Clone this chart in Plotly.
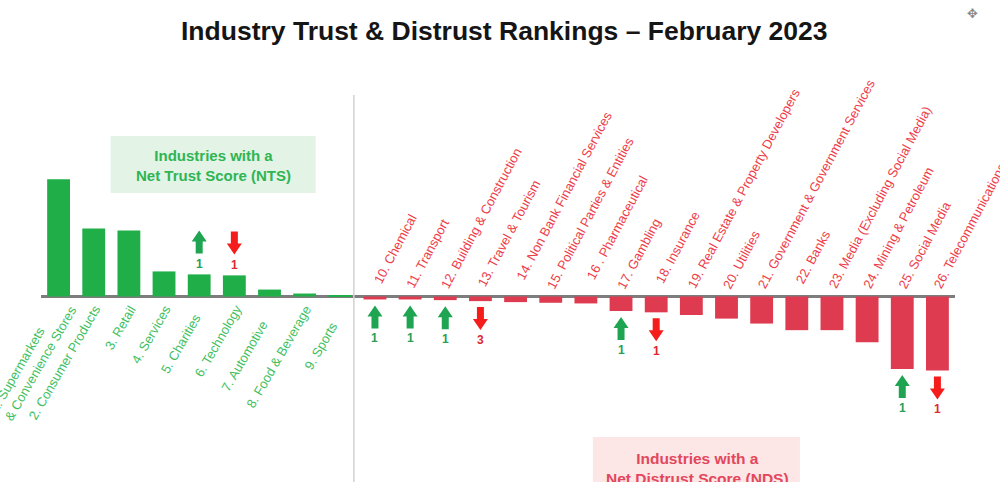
import plotly.graph_objects as go

# ---------------- data ----------------
trust_labels = ["1. Supermarkets<br>& Convenience Stores", "2. Consumer Products", "3. Retail",
                "4. Services", "5. Charities", "6. Technology", "7. Automotive",
                "8. Food & Beverage", "9. Sports"]
trust_values = [35.5, 20.6, 20.0, 7.6, 6.7, 6.4, 2.1, 0.9, 0.2]

distrust_labels = ["10. Chemical", "11. Transport", "12. Building & Construction",
                   "13. Travel & Tourism", "14. Non Bank Financial Services",
                   "15. Political Parties & Entities", "16 . Pharmaceutical", "17. Gambling",
                   "18. Insurance", "19. Real Estate & Property Developers", "20. Utilities",
                   "21. Government & Government Services", "22. Banks",
                   "23. Media (Excluding Social Media)", "24. Mining & Petroleum",
                   "25. Social Media", "26. Telecommunications"]
distrust_values = [-0.9, -0.9, -1.1, -1.4, -1.7, -1.9, -2.1, -4.4, -4.8, -5.6, -6.7,
                   -8.2, -10.2, -10.2, -13.9, -22.0, -22.4]

# rank movement since previous wave (positive = moved up)
rank_change = [0, 0, 0, 0, 1, -1, 0, 0, 0,
               1, 1, 1, -3, 0, 0, 0, 1, -1, 0, 0, 0, 0, 0, 0, 1, -1]

title_text = "Industry Trust & Distrust Rankings – February 2023"
nts_box_text = "Industries with a<br>Net Trust Score (NTS)"
nds_box_text = "Industries with a<br>Net Distrust Score (NDS)"

# ---------------- styling / layout ----------------
W, H = 1000, 482
L, R = 41.4, 45.0
PX_PER_UNIT = 3.3
ZERO_PX = 296.5
FONT = "Liberation Sans, Arial, sans-serif"
GREEN_BAR = "#20ae49"
RED_BAR = "#de3a50"
GREEN_LABEL = "#3fbf60"
RED_LABEL = "#ee3d48"
GREEN_ARROW = "#1fa552"
RED_ARROW = "#f51c1c"

# per-label nudges along the text direction (pixels)
left_back = [0, 0, 0, 0, 10, 0, 18, 0, 18]
right_fwd = [6, 0, 0, 2, 10, 0, 10, 0, 6, 0, 0, 0, 5, 0, 0, 0, 0]


def px(x):
    return (x - L) / (W - L - R)


def py(y):
    return 1 - y / H


n_trust = len(trust_values)
trust_x = list(range(n_trust))
distrust_x = list(range(n_trust, n_trust + len(distrust_values)))
all_values = trust_values + distrust_values

fig = go.Figure()
fig.add_trace(go.Bar(x=trust_x, y=trust_values, width=0.65,
                     marker=dict(color=GREEN_BAR, line=dict(width=0)), hoverinfo="skip"))
fig.add_trace(go.Bar(x=distrust_x, y=distrust_values, width=0.65,
                     marker=dict(color=RED_BAR, line=dict(width=0)), hoverinfo="skip"))

annotations = []
shapes = []

# title
annotations.append(dict(text="<b>" + title_text + "</b>", x=px(505), y=py(31), xref="paper", yref="paper",
                        showarrow=False, font=dict(family=FONT, size=26.5, color="#151515"),
                        xanchor="center", yanchor="middle"))

# category labels – trust side (below axis)
for i, lab in enumerate(trust_labels):
    if i == 0:
        xs, ys = 23.7, 4.8
    else:
        xs, ys = 12.6, -3.5
    b = left_back[i]
    xs -= 0.5 * b
    ys -= 0.866 * b
    annotations.append(dict(text=lab, x=trust_x[i], y=0, xref="x", yref="y", showarrow=False,
                            textangle=-60, xanchor="right", yanchor="top", align="left",
                            xshift=xs, yshift=ys,
                            font=dict(family=FONT, size=13, color=GREEN_LABEL)))

# category labels – distrust side (above axis)
for j, lab in enumerate(distrust_labels):
    f = right_fwd[j]
    annotations.append(dict(text=lab, x=distrust_x[j], y=0, xref="x", yref="y", showarrow=False,
                            textangle=-62, xanchor="left", yanchor="bottom", align="left",
                            xshift=-9.5 + 0.47 * f, yshift=3 + 0.883 * f,
                            font=dict(family=FONT, size=13, color=RED_LABEL)))

# rank movement arrows + numbers
for i, ch in enumerate(rank_change):
    if ch == 0:
        continue
    v = all_values[i]
    if v > 0:
        lo, hi, num_shift = 21, 44, 10.5
    else:
        lo, hi, num_shift = -29, -6, -39
    hw, sw, hh = 7.5, 3.5, 11
    if ch > 0:
        s = lo + (hi - lo - hh)
        path = (f"M {-sw},{lo} L {sw},{lo} L {sw},{s} L {hw},{s} L 0,{hi} "
                f"L {-hw},{s} L {-sw},{s} Z")
        col = GREEN_ARROW
    else:
        s = hi - (hi - lo - hh)
        path = (f"M {-sw},{hi} L {sw},{hi} L {sw},{s} L {hw},{s} L 0,{lo} "
                f"L {-hw},{s} L {-sw},{s} Z")
        col = RED_ARROW
    shapes.append(dict(type="path", path=path, xref="x", yref="y",
                       xsizemode="pixel", ysizemode="pixel", xanchor=i, yanchor=v,
                       fillcolor=col, line=dict(width=0)))
    annotations.append(dict(text="<b>" + str(abs(ch)) + "</b>", x=i, y=v, xref="x", yref="y",
                            showarrow=False, yshift=num_shift, xanchor="center", yanchor="middle",
                            font=dict(family=FONT, size=12,
                                      color="#2a9f55" if ch > 0 else "#e0282e")))

# divider
shapes.append(dict(type="line", xref="x", yref="paper", x0=n_trust - 0.6, x1=n_trust - 0.6,
                   y0=0, y1=py(95), line=dict(color="#d2d2d2", width=1.5)))

# NTS box
shapes.append(dict(type="rect", xref="paper", yref="paper", x0=px(111), x1=px(316),
                   y0=py(193), y1=py(136), fillcolor="#e3f3e6", line=dict(width=0), layer="below"))
annotations.append(dict(text="<b>" + nts_box_text + "</b>", x=px(214), y=py(165),
                        xref="paper", yref="paper", showarrow=False,
                        font=dict(family=FONT, size=15, color="#2fb553"),
                        xanchor="center", yanchor="middle"))

# NDS box
shapes.append(dict(type="rect", xref="paper", yref="paper", x0=px(593), x1=px(800),
                   y0=py(482), y1=py(437), fillcolor="#fde6e6", line=dict(width=0), layer="below"))
annotations.append(dict(text="<b>" + nds_box_text + "</b>", x=px(698), y=py(468),
                        xref="paper", yref="paper", showarrow=False,
                        font=dict(family=FONT, size=15.5, color="#e3475c"),
                        xanchor="center", yanchor="middle"))

# small cursor glyph seen in the screenshot corner
annotations.append(dict(text="✥", x=px(972), y=py(13), xref="paper", yref="paper", showarrow=False,
                        font=dict(family="DejaVu Sans", size=13, color="#888888"),
                        xanchor="center", yanchor="middle"))

fig.update_layout(
    width=W, height=H,
    margin=dict(l=L, r=R, t=0, b=0, pad=0),
    paper_bgcolor="white", plot_bgcolor="white",
    barmode="overlay", showlegend=False,
    xaxis=dict(range=[-0.5, 25.5], showticklabels=False, showgrid=False, zeroline=False,
               ticks="", showline=False, fixedrange=True),
    yaxis=dict(range=[-(H - ZERO_PX) / PX_PER_UNIT, ZERO_PX / PX_PER_UNIT], showticklabels=False,
               showgrid=False, zeroline=True, zerolinecolor="#7d7d7d", zerolinewidth=2.5,
               ticks="", showline=False, fixedrange=True),
    annotations=annotations, shapes=shapes,
)

fig.write_html("out.html")
